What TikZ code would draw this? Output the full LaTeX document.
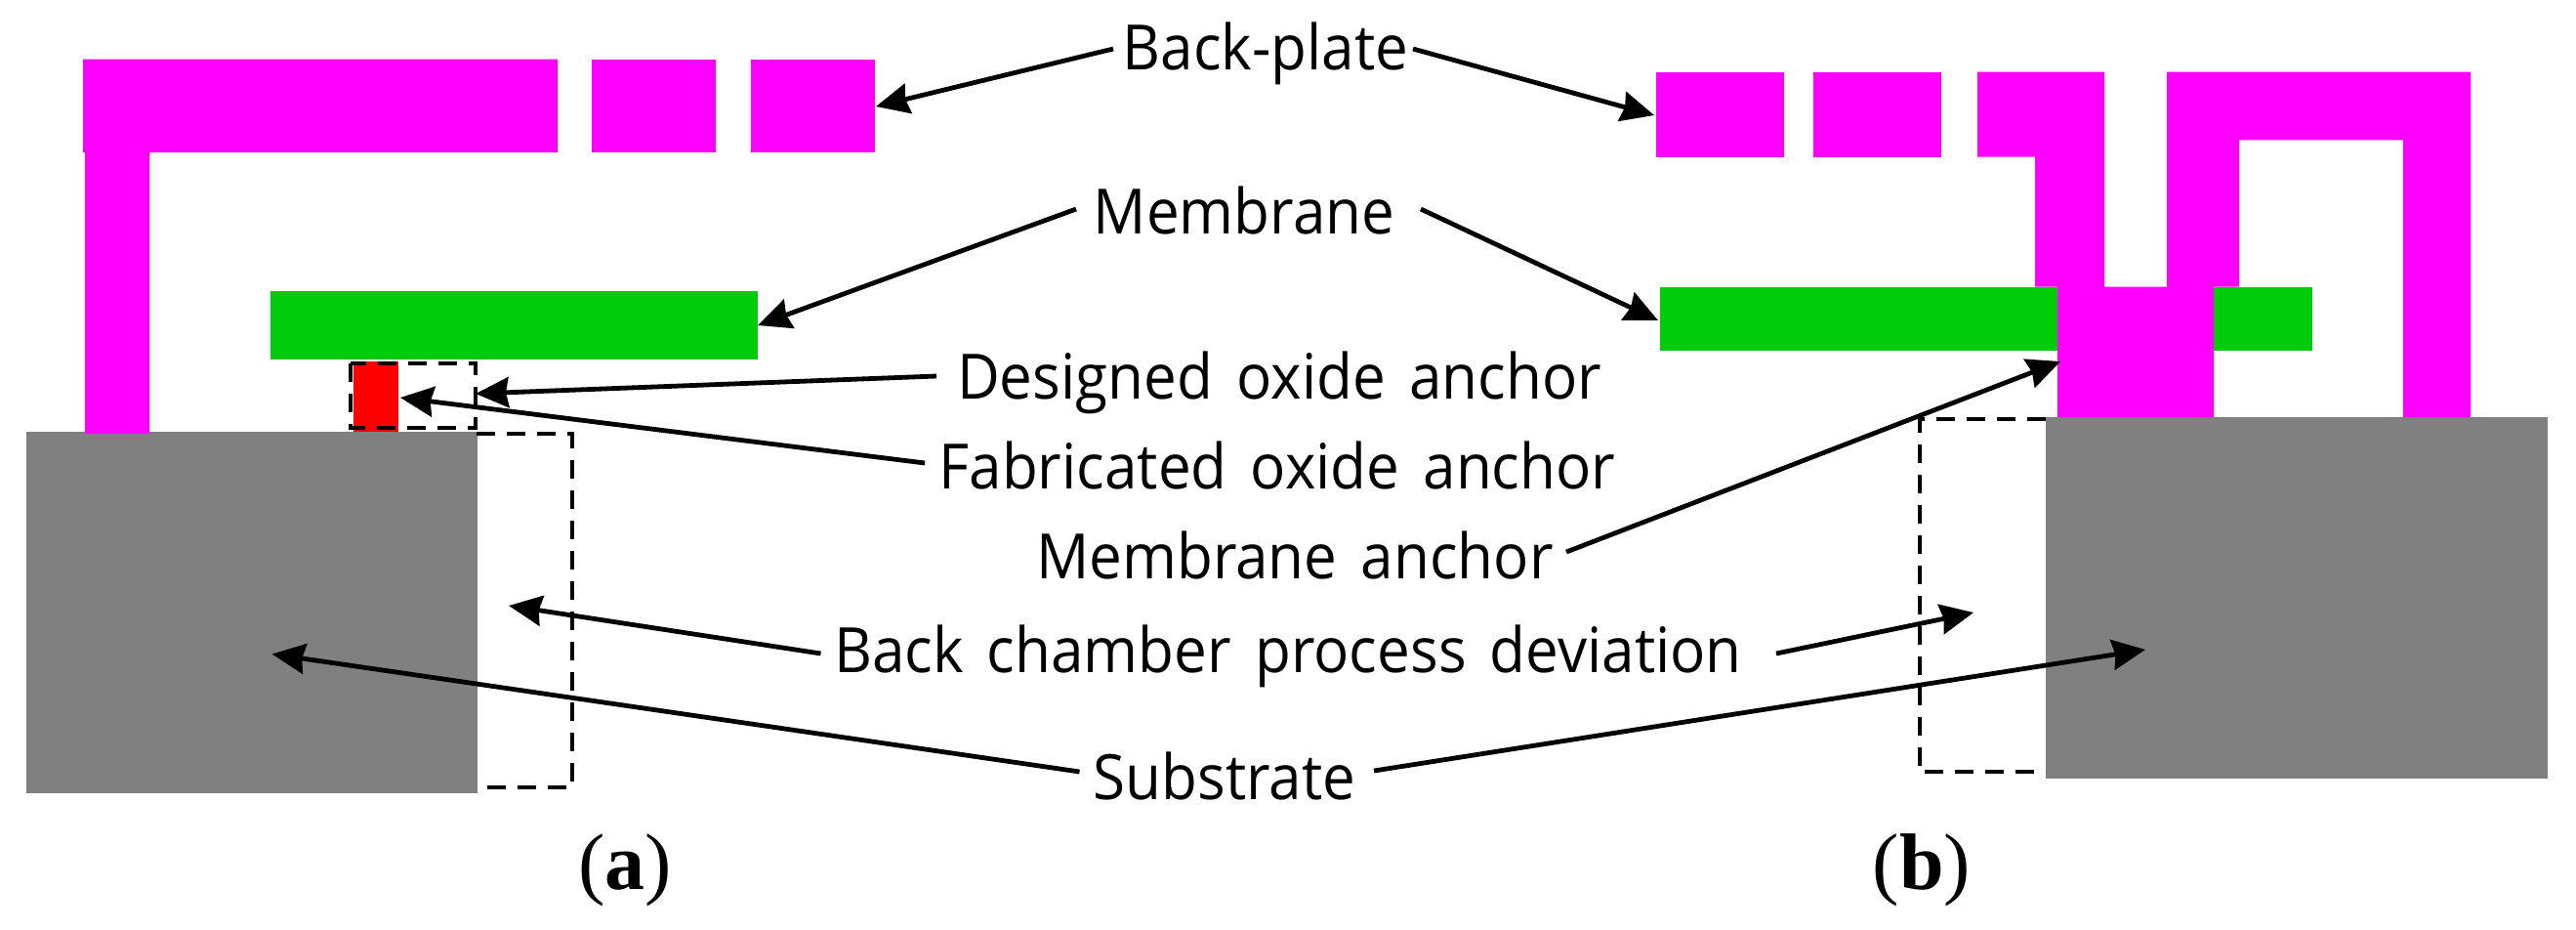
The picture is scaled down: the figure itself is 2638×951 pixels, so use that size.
\documentclass[tikz,border=0pt]{standalone}
\usepackage{fontspec}
\setmainfont[FakeStretch=0.94,WordSpace=1.55]{Open Sans}
\newfontfamily\capfont{Liberation Serif}
\usetikzlibrary{arrows.meta}
\definecolor{plate}{RGB}{255,0,255}
\definecolor{memb}{RGB}{0,204,12}
\definecolor{sub}{RGB}{128,128,128}
\tikzset{
  x=1pt,y=-1pt,
  platefill/.style={fill=plate,draw=none},
  membfill/.style={fill=memb,draw=none},
  subfill/.style={fill=sub,draw=none},
  dashbox/.style={draw=black,line width=4pt,dash pattern=on 19pt off 12pt},
  pointer/.style={draw=black,line width=4.8pt,-{Stealth[length=34pt,width=31pt,inset=3pt]},shorten >=0pt},
  lbl/.style={inner sep=0pt,font=\fontsize{64}{76}\selectfont,text=black,anchor=center},
  captionlbl/.style={inner sep=0pt,font=\capfont\fontsize{82}{100}\selectfont,text=black,anchor=center},
}
\begin{document}
\begin{tikzpicture}
\useasboundingbox (0,0) rectangle (2638,951);
% left structure
\path[subfill] (27,442) rectangle (488.5,812);
\path[platefill] (85,60.5) -- (571,60.5) -- (571,156) -- (153,156) -- (153,444) -- (87,444) -- (87,156) -- (85,156) -- cycle;
\path[platefill] (606,60.5) rectangle (732.5,156);
\path[platefill] (769,60.5) rectangle (895.5,156);
\path[membfill] (277,298) rectangle (776,368);
\path[fill=red] (362,370) rectangle (407.5,442);
\draw[dashbox] (359,372) rectangle (487,438);
\draw[dashbox] (488,444) -- (585.5,444) -- (585.5,806) -- (488,806);
% right structure
\path[subfill] (2095,426.7) rectangle (2608.5,797);
\path[platefill] (1696,73.7) rectangle (1826.5,160.7);
\path[platefill] (1857,73.7) rectangle (1988,160.7);
\path[platefill] (2025,73.7) -- (2155,73.7) -- (2155,293.7) -- (2219,293.7) -- (2219,73.7) -- (2530,73.7) -- (2530,427) -- (2461,427) -- (2461,143.3) -- (2293,143.3) -- (2293,293.7) -- (2267,293.7) -- (2267,427) -- (2107,427) -- (2107,293.7) -- (2084,293.7) -- (2084,160.7) -- (2025,160.7) -- cycle;
\path[membfill] (1700,293.7) rectangle (2107,359.3);
\path[membfill] (2267,293.7) rectangle (2367.5,359.3);
\draw[dashbox] (2095,429) -- (1965.5,429) -- (1965.5,790) -- (2095,790);
% labels
\node[lbl] (backplate) at (1296,55) {Back-plate};
\node[lbl] (membrane) at (1274,215) {Membrane};
\node[lbl] (designed) at (1310,392) {Designed oxide anchor};
\node[lbl] (fabricated) at (1308,476) {Fabricated oxide anchor};
\node[lbl] (manchor) at (1326,568) {Membrane anchor};
\node[lbl] (deviation) at (1319,672) {Back chamber process deviation};
\node[lbl] (substrate) at (1254,794) {Substrate};
\node[captionlbl] (capa) at (640,891) {(\textbf{a})};
\node[captionlbl] (capb) at (1968,891) {(\textbf{b})};
% connector ends
\coordinate (bpLt) at (1140,50);   \coordinate (bpLh) at (897,109);
\coordinate (bpRt) at (1447,50);   \coordinate (bpRh) at (1694,118);
\coordinate (mLt) at (1102,214);   \coordinate (mLh) at (776,333);
\coordinate (mRt) at (1455,214);   \coordinate (mRh) at (1698,328);
\coordinate (dt) at (959,385);     \coordinate (dh) at (487,403);
\coordinate (ft) at (947,474);     \coordinate (fh) at (410,407);
\coordinate (at) at (1604,565);    \coordinate (ah) at (2110,370);
\coordinate (cLt) at (840.5,669);  \coordinate (cLh) at (521,620);
\coordinate (cRt) at (1819,669);   \coordinate (cRh) at (2021,627);
\coordinate (sLt) at (1105.5,790); \coordinate (sLh) at (278.5,669.5);
\coordinate (sRt) at (1407,789);   \coordinate (sRh) at (2197,665);
\draw[pointer] (bpLt) -- (bpLh);
\draw[pointer] (bpRt) -- (bpRh);
\draw[pointer] (mLt) -- (mLh);
\draw[pointer] (mRt) -- (mRh);
\draw[pointer] (dt) -- (dh);
\draw[pointer] (ft) -- (fh);
\draw[pointer] (at) -- (ah);
\draw[pointer] (cLt) -- (cLh);
\draw[pointer] (cRt) -- (cRh);
\draw[pointer] (sLt) -- (sLh);
\draw[pointer] (sRt) -- (sRh);
\end{tikzpicture}
\end{document}
